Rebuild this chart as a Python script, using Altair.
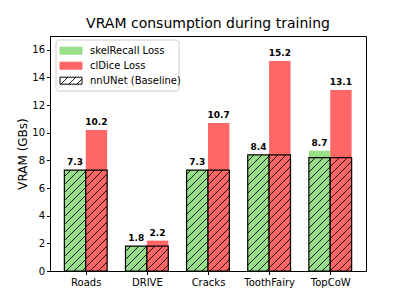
import altair as alt
import pandas as pd
import numpy as np

# ---- data ----
categories = ["Roads", "DRIVE", "Cracks", "ToothFairy", "TopCoW"]
baseline = [7.3, 1.8, 7.3, 8.4, 8.2]          # nnUNet (Baseline), hatched part
skelrecall = [7.3, 1.8, 7.3, 8.4, 8.7]        # skelRecall Loss totals
cldice = [10.2, 2.2, 10.7, 15.2, 13.1]        # clDice Loss totals
series_names = ["skelRecall Loss", "clDice Loss"]
legend_labels = ["skelRecall Loss", "clDice Loss", "nnUNet (Baseline)"]
y_ticks = [0, 2, 4, 6, 8, 10, 12, 14, 16]

# ---- styling / layout ----
GREEN = "#98df8a"
RED = "#ff6666"
COLORS = [GREEN, RED]
FONT = "DejaVu Sans"
W, H = 316, 235
BAR = 0.35
XMIN, XMAX = -0.585, 4.585
YMAX = 17
SP = 8.0  # hatch spacing in px

px_x = W / (XMAX - XMIN)
px_y = H / YMAX


def hatch(X0, X1, Y0, Y1):
    """45 degree '/' hatch segments clipped to a pixel rect (Y up)."""
    out = []
    kmin = int(np.floor((Y0 - X1) / SP)) - 1
    kmax = int(np.ceil((Y1 - X0) / SP)) + 1
    for k in range(kmin, kmax + 1):
        c = k * SP
        xa = max(X0, Y0 - c)
        xb = min(X1, Y1 - c)
        if xb - xa > 0.3:
            out.append((xa, xa + c, xb, xb + c))
    return out


rows = []
for i, cat in enumerate(categories):
    for s, (name, tot) in enumerate(zip(series_names, [skelrecall[i], cldice[i]])):
        x0 = i - BAR + s * BAR
        rows.append(dict(cat=cat, series=name, color=COLORS[s], x0=x0, x1=x0 + BAR,
                         xc=x0 + BAR / 2, base=baseline[i], total=tot))
bars = pd.DataFrame(rows)

segs = []
for r in rows:
    for xa, ya, xb, yb in hatch((r["x0"] - XMIN) * px_x, (r["x1"] - XMIN) * px_x,
                                0.0, r["base"] * px_y):
        segs.append(dict(x=xa / px_x + XMIN, y=ya / px_y, x2=xb / px_x + XMIN, y2=yb / px_y))
segs = pd.DataFrame(segs)

xscale = alt.Scale(domain=[XMIN, XMAX], nice=False, zero=False)
yscale = alt.Scale(domain=[0, YMAX], nice=False)

label_expr = "[" + ",".join("'%s'" % c for c in categories) + "][round(datum.value)]"

xaxis = alt.Axis(values=list(range(len(categories))), labelExpr=label_expr, title=None,
                 grid=False, tickSize=3.5, labelPadding=2.5, labelFontSize=10,
                 labelColor="black", tickColor="black", domainColor="black",
                 labelFont=FONT, labelAngle=0)
yaxis = alt.Axis(values=y_ticks, title="VRAM (GBs)", grid=False, tickSize=3.5,
                 labelPadding=2, labelFontSize=10, titleFontSize=12, titleFontWeight="normal",
                 titlePadding=2, labelColor="black", titleColor="black", tickColor="black",
                 domainColor="black", labelFont=FONT, titleFont=FONT)

base = alt.Chart(bars)

top = base.mark_bar(strokeWidth=0).encode(
    x=alt.X("x0:Q", scale=xscale, axis=xaxis),
    x2="x1:Q",
    y=alt.Y("base:Q", scale=yscale, axis=yaxis),
    y2="total:Q",
    fill=alt.Fill("color:N", scale=None),
)

lower = base.mark_bar(stroke="black", strokeWidth=1.2).encode(
    x=alt.X("x0:Q", scale=xscale, axis=None),
    x2="x1:Q",
    y=alt.Y("base:Q", scale=yscale, axis=None),
    y2=alt.Y2(datum=0),
    fill=alt.Fill("color:N", scale=None),
)

hatch_lines = alt.Chart(segs).mark_rule(color="black", strokeWidth=0.9).encode(
    x=alt.X("x:Q", scale=xscale, axis=None),
    y=alt.Y("y:Q", scale=yscale, axis=None),
    x2="x2:Q",
    y2="y2:Q",
)

labels = base.mark_text(baseline="bottom", dy=-3, fontWeight="bold", fontSize=9,
                        font=FONT, color="black").encode(
    x=alt.X("xc:Q", scale=xscale, axis=None),
    y=alt.Y("total:Q", scale=yscale, axis=None),
    text=alt.Text("total:Q", format=".1f"),
)

# ---- hand-made legend (pixel positions inside plot area) ----
LX0, LX1, LY0, LY1 = 6, 129, 4, 55
row_y = [14.7, 29.7, 44.7]
leg_box = pd.DataFrame([dict(x=LX0, x2=LX1, y=LY0, y2=LY1)])
leg_box_mark = alt.Chart(leg_box).mark_rect(fill="white", fillOpacity=0.8, stroke="#cccccc",
                                            strokeWidth=1, cornerRadius=3).encode(
    x=alt.X("x:Q", scale=None, axis=None), x2="x2:Q",
    y=alt.Y("y:Q", scale=None, axis=None), y2="y2:Q")

leg_rows = pd.DataFrame([dict(label=l, fill=f, stroke=s, y=yy - 3.5, y2=yy + 3.5, ym=yy,
                              x=10, x2=32, tx=40)
                         for l, f, s, yy in zip(legend_labels, [GREEN, RED, "white"],
                                                [GREEN, RED, "black"], row_y)])
leg_patch = alt.Chart(leg_rows).mark_rect(strokeWidth=1).encode(
    x=alt.X("x:Q", scale=None, axis=None), x2="x2:Q",
    y=alt.Y("y:Q", scale=None, axis=None), y2="y2:Q",
    fill=alt.Fill("fill:N", scale=None), stroke=alt.Stroke("stroke:N", scale=None))
leg_text = alt.Chart(leg_rows).mark_text(align="left", baseline="middle", fontSize=10,
                                         font=FONT, color="black").encode(
    x=alt.X("tx:Q", scale=None, axis=None), y=alt.Y("ym:Q", scale=None, axis=None),
    text="label:N")

py0, py1 = row_y[2] - 3.5, row_y[2] + 3.5
leg_h = [dict(x=xa, y=H - ya, x2=xb, y2=H - yb)
         for xa, ya, xb, yb in hatch(10, 32, H - py1, H - py0)]
leg_hatch = alt.Chart(pd.DataFrame(leg_h)).mark_rule(color="black", strokeWidth=0.9).encode(
    x=alt.X("x:Q", scale=None, axis=None), y=alt.Y("y:Q", scale=None, axis=None),
    x2="x2:Q", y2="y2:Q")

chart = alt.layer(top, lower, hatch_lines, labels, leg_box_mark, leg_patch, leg_hatch, leg_text).resolve_scale(
    x="independent", y="independent"
).resolve_axis(
    x="independent", y="independent"
).properties(
    width=W, height=H,
    background="white",
    title=alt.TitleParams("VRAM consumption during training", fontSize=14, font=FONT,
                          fontWeight="normal", color="black", anchor="middle", offset=5),
    autosize=alt.AutoSizeParams(type="none"),
    padding={"left": 42, "top": 28, "right": 33, "bottom": 26},
).configure_view(stroke="black", strokeWidth=1)

chart.save("out.html", embed_options={"renderer": "svg", "actions": False})
